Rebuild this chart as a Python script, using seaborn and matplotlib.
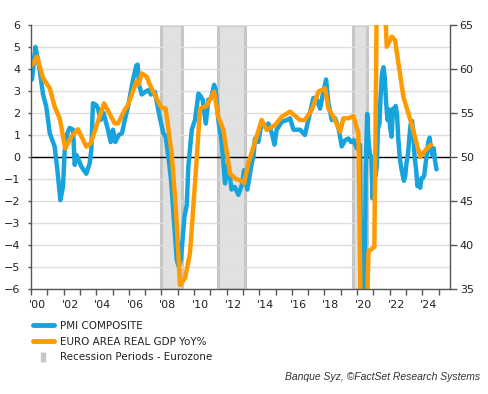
"""
Euro area PMI composite vs real GDP YoY, with eurozone recession periods.
"""
import numpy as np
import pandas as pd
import matplotlib
matplotlib.use("Agg")
import matplotlib.pyplot as plt
import seaborn as sns
from matplotlib.lines import Line2D

# Real GDP YoY % (left axis), decimal years
gdp_dates = [2000.06, 2000.37, 2000.74, 2001.15, 2001.45, 2001.76, 2002.10, 2002.47,
             2002.88, 2003.39, 2003.66, 2004.48, 2005.13, 2005.34, 2005.75, 2005.95,
             2006.46, 2006.60, 2006.79, 2007.10, 2007.30, 2007.60, 2007.98, 2008.26,
             2008.62, 2008.87, 2009.14, 2009.45, 2009.75, 2010.06, 2010.37, 2010.78,
             2011.23, 2011.49, 2011.80, 2012.20, 2012.50, 2013.00, 2013.07, 2013.33,
             2014.15, 2014.46, 2014.97, 2015.38, 2015.89, 2016.50, 2016.80, 2017.22,
             2017.63, 2018.04, 2018.24, 2018.55, 2018.96, 2019.16, 2019.47, 2019.77,
             2020.08, 2020.35, 2020.70, 2021.06, 2021.30, 2021.82, 2022.13, 2022.33,
             2022.84, 2023.36, 2023.87, 2024.28, 2024.54]
gdp_yoy = [4.18, 4.56, 3.58, 3.12, 2.29, 1.76, 0.39, 0.92,
           1.26, 0.47, 0.62, 2.44, 1.53, 1.53, 2.14, 2.36,
           3.42, 3.30, 3.80, 3.65, 3.27, 2.82, 2.26, 2.20,
           0.20, -2.20, -5.82, -5.50, -4.38, -1.20, 2.20, 2.32,
           2.97, 1.83, 1.23, -0.74, -0.97, -1.12, -1.20, -0.29,
           1.68, 1.23, 1.45, 1.83, 2.06, 1.68, 1.68, 2.14,
           2.97, 3.12, 2.20, 1.83, 1.15, 1.76, 1.76, 1.86,
           1.08, -14.5, -4.30, -4.08, 14.0, 5.01, 5.47, 5.30,
           2.74, 1.45, 0.00, 0.39, 0.55]

# PMI composite (right axis)
pmi_dates = [2000.06, 2000.27, 2000.40, 2000.53, 2000.74, 2000.94, 2001.15, 2001.45,
             2001.62, 2001.80, 2001.96, 2002.07, 2002.23, 2002.37, 2002.58, 2002.68,
             2002.80, 2003.09, 2003.39, 2003.60, 2003.70, 2003.80, 2004.00, 2004.11,
             2004.27, 2004.45, 2004.72, 2004.89, 2005.03, 2005.17, 2005.38, 2005.58,
             2005.75, 2005.95, 2006.26, 2006.46, 2006.54, 2006.63, 2006.79, 2007.00,
             2007.20, 2007.36, 2007.60, 2007.77, 2007.91, 2008.12, 2008.26, 2008.43,
             2008.59, 2008.94, 2009.05, 2009.20, 2009.41, 2009.55, 2009.65, 2009.86,
             2010.06, 2010.27, 2010.41, 2010.53, 2010.72, 2010.88, 2011.05, 2011.23,
             2011.33, 2011.49, 2011.70, 2011.90, 2012.10, 2012.30, 2012.50, 2012.72,
             2012.93, 2013.07, 2013.27, 2013.54, 2013.64, 2013.74, 2013.95, 2014.15,
             2014.36, 2014.56, 2014.77, 2014.93, 2015.07, 2015.38, 2015.69, 2015.89,
             2016.10, 2016.50, 2016.80, 2017.01, 2017.32, 2017.50, 2017.73, 2017.90,
             2018.10, 2018.24, 2018.45, 2018.65, 2018.85, 2019.06, 2019.26, 2019.47,
             2019.63, 2019.80, 2019.98, 2020.18, 2020.28, 2020.37, 2020.45, 2020.53,
             2020.62, 2020.70, 2020.78, 2020.87, 2020.95, 2021.03, 2021.12, 2021.20,
             2021.28, 2021.37, 2021.45, 2021.53, 2021.62, 2021.70, 2021.78, 2021.87,
             2021.95, 2022.03, 2022.12, 2022.20, 2022.28, 2022.37, 2022.45, 2022.53,
             2022.62, 2022.70, 2022.78, 2022.87, 2022.95, 2023.03, 2023.12, 2023.20,
             2023.28, 2023.37, 2023.45, 2023.53, 2023.62, 2023.70, 2023.78, 2023.87,
             2023.95, 2024.03, 2024.12, 2024.20, 2024.28, 2024.37, 2024.45, 2024.53,
             2024.62, 2024.70, 2024.78, 2024.87]
pmi_values = [58.8, 62.5, 61.3, 59.9, 57.1, 55.7, 52.7, 51.2,
              48.5, 45.1, 46.6, 50.8, 52.7, 53.3, 53.1, 49.1,
              50.2, 48.9, 48.1, 49.3, 50.8, 56.1, 55.9, 55.5,
              54.2, 55.0, 53.1, 51.7, 53.1, 51.7, 52.5, 52.7,
              54.2, 55.7, 58.8, 60.4, 60.5, 58.2, 57.1, 57.4,
              57.6, 57.1, 57.4, 55.7, 54.4, 52.7, 52.3, 50.0,
              47.4, 38.3, 37.6, 38.4, 43.2, 44.5, 48.9, 53.1,
              54.2, 57.2, 56.9, 56.5, 53.8, 56.5, 56.7, 58.2,
              57.6, 54.2, 51.6, 47.0, 49.3, 46.3, 46.6, 45.7,
              46.8, 48.5, 46.3, 49.3, 50.0, 52.1, 51.7, 54.0,
              53.4, 53.8, 52.7, 51.4, 53.1, 54.0, 54.2, 54.4,
              53.1, 53.1, 52.5, 54.2, 56.7, 56.7, 55.5, 57.1,
              58.8, 56.1, 54.2, 54.4, 53.4, 51.2, 51.9, 52.1,
              51.7, 51.9, 51.0, 51.4, 29.7, 13.6, 31.9, 48.5,
              54.9, 51.9, 50.4, 50.0, 45.3, 49.1, 47.8, 48.8,
              53.2, 53.8, 57.1, 59.5, 60.2, 59.0, 56.2, 54.2,
              55.4, 53.3, 52.3, 55.5, 54.9, 55.8, 54.8, 52.0,
              49.9, 48.9, 48.1, 47.3, 47.8, 49.3, 50.3, 52.0,
              53.7, 54.1, 52.8, 49.9, 48.6, 46.7, 47.2, 46.5,
              47.6, 47.6, 47.9, 49.2, 50.3, 51.7, 52.2, 50.9,
              50.2, 51.0, 49.6, 48.6]

recession_start = [2008.00, 2011.50, 2019.75]
recession_end = [2009.28, 2013.10, 2020.63]

year_ticks = list(range(2000, 2026))
year_labels = ["'00", "'02", "'04", "'06", "'08", "'10", "'12",
               "'14", "'16", "'18", "'20", "'22", "'24"]

BLUE = '#17a3dc'
ORANGE = '#ff9a00'
AXIS_GREY = '#555555'

sns.set_theme(style="white")
plt.rcParams['font.family'] = ['DejaVu Sans']

gdp_df = pd.DataFrame({'date': gdp_dates, 'gdp': gdp_yoy})
pmi_df = pd.DataFrame({'date': pmi_dates, 'pmi': pmi_values})

fig = plt.figure(figsize=(4.89, 3.94), dpi=100)
ax = fig.add_axes([31 / 489, 1 - 289 / 394, (450 - 31) / 489, (289 - 25) / 394])
ax2 = ax.twinx()

# background axis (right, PMI) holds bands, grid and the blue line
ax.set_zorder(ax2.get_zorder() + 1)
ax.patch.set_visible(False)
ax2.set_facecolor('white')

for s, e in zip(recession_start, recession_end):
    ax2.axvspan(s, e, facecolor='#e1e1e1', edgecolor='#c6c6c6', linewidth=2.2, zorder=0.1)

ax2.set_ylim(35, 65)
ax2.set_yticks(np.arange(35, 66, 5))
ax2.set_yticks(np.arange(35, 66, 2.5), minor=True)
ax2.grid(True, which='both', axis='y', color='#dedede', linewidth=1, zorder=0.3)
ax2.grid(False, axis='x')
ax2.axhline(50, color='black', linewidth=1, zorder=1)

sns.lineplot(data=pmi_df, x='date', y='pmi', ax=ax2, color=BLUE, linewidth=3.2,
             sort=False, zorder=2)
sns.lineplot(data=gdp_df, x='date', y='gdp', ax=ax, color=ORANGE, linewidth=3.2,
             sort=False, zorder=2)

ax.set_xlim(2000, 2025.7)
ax.set_ylim(-6, 6)
ax.set_yticks(range(-6, 7))
ax.set_xticks(year_ticks)
ax.set_xticklabels([])
ax.set_xticks([y + 0.4 for y in range(2000, 2025, 2)], minor=True)
ax.set_xticklabels(year_labels, minor=True)
ax.set_xlabel('')
ax.set_ylabel('')
ax2.set_ylabel('')
ax.grid(False)

for a in (ax, ax2):
    for side in a.spines:
        a.spines[side].set_visible(False)
ax.spines['left'].set_visible(True)
ax.spines['bottom'].set_visible(True)
ax2.spines['right'].set_visible(True)
for sp in (ax.spines['left'], ax.spines['bottom'], ax2.spines['right']):
    sp.set_color(AXIS_GREY)
    sp.set_linewidth(1)

ax.tick_params(axis='y', which='major', direction='out', length=2, width=1,
               color=AXIS_GREY, pad=5.5, labelsize=8, labelcolor='#222222', left=True)
ax.tick_params(axis='x', which='major', direction='out', length=4, width=1,
               color=AXIS_GREY, bottom=True)
ax.tick_params(axis='x', which='minor', length=0, pad=8, labelsize=8,
               labelcolor='#222222', bottom=True)
ax2.tick_params(axis='y', which='major', direction='out', length=5, width=1,
                color=AXIS_GREY, pad=2, labelsize=8, labelcolor='#222222', right=True)
ax2.tick_params(axis='y', which='minor', length=0, right=False)

handles = [
    Line2D([], [], color=BLUE, linewidth=3.5),
    Line2D([], [], color=ORANGE, linewidth=3.5),
    Line2D([], [], color='#c8c8c8', linestyle='none', marker='|',
           markersize=7, markeredgewidth=3.8),
]
labels = ['PMI COMPOSITE', 'EURO AREA REAL GDP YoY%', 'Recession Periods - Eurozone']
fig.legend(handles, labels, loc='upper left', bbox_to_anchor=(33 / 489, 1 - 321 / 394),
           frameon=False, fontsize=7.5, handlelength=2.0, handletextpad=0.55,
           labelspacing=0.55, borderpad=0, borderaxespad=0, labelcolor='#222222')

fig.text(480 / 489, 1 - 377 / 394, 'Banque Syz, \u00a9FactSet Research Systems',
         ha='right', va='center', fontsize=7.5, style='italic',
         family=['Liberation Sans', 'DejaVu Sans'], color='#333333')

fig.savefig('out.png', dpi=100)
plt.close(fig)
